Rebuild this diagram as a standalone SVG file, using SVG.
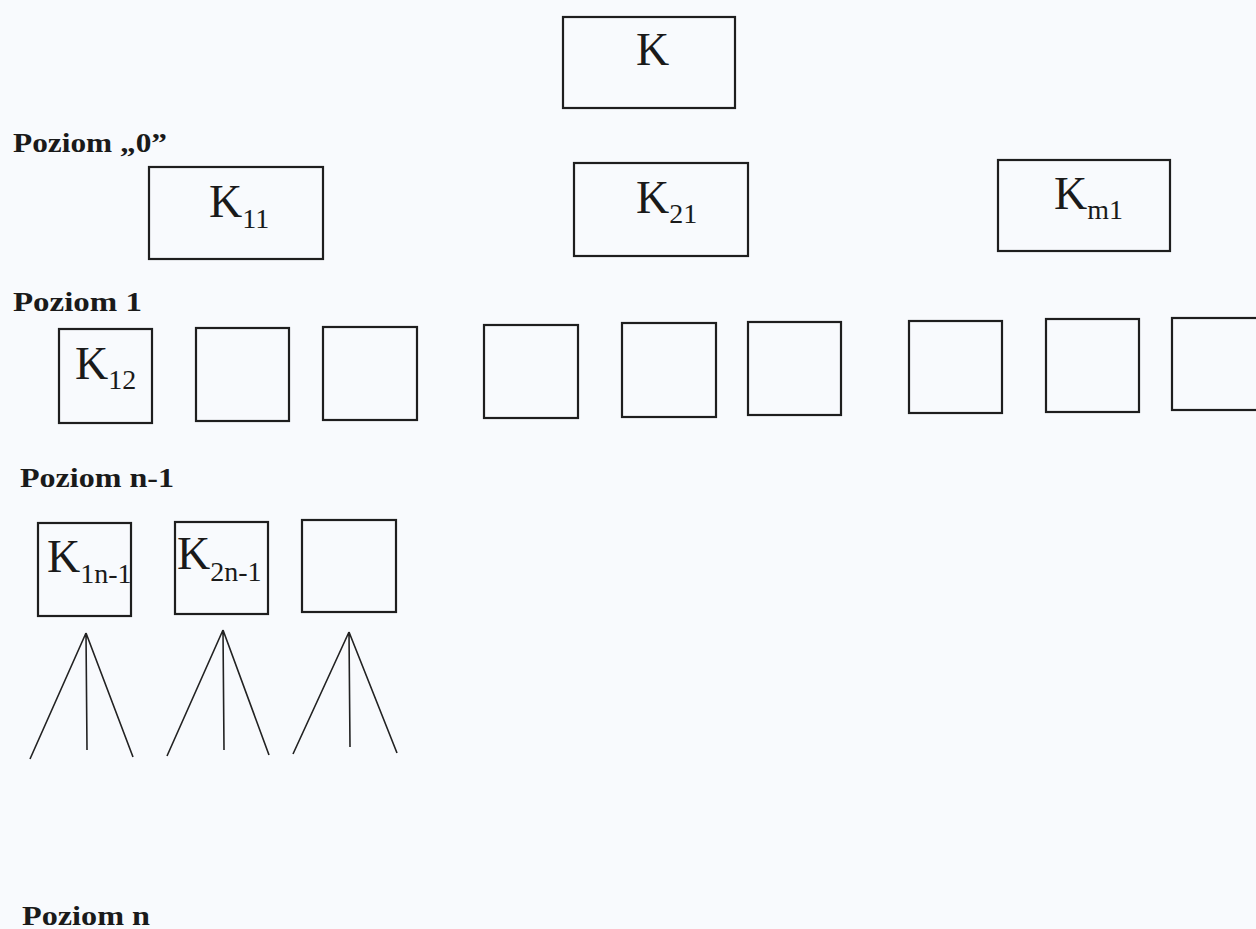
<svg xmlns="http://www.w3.org/2000/svg" width="1256" height="929" viewBox="0 0 1256 929">
<style>
.bg{fill:#f8fafd}
.box{fill:none;stroke:#1e1e1e;stroke-width:2.2}
.lbl{font-family:"Liberation Serif","Times New Roman",serif;font-size:46px;fill:#1a1a1a}
.sub{font-size:28px}
.lvl{font-family:"Liberation Serif","Times New Roman",serif;font-size:27px;font-weight:bold;fill:#1a1a1a}
.fan{stroke:#222;stroke-width:1.6;fill:none}
</style>
<rect class="bg" x="0" y="0" width="1256" height="929"/>
<g id="levels">
<text class="lvl" x="13" y="152" textLength="154" lengthAdjust="spacingAndGlyphs">Poziom „0”</text>
<text class="lvl" x="13" y="311" textLength="129" lengthAdjust="spacingAndGlyphs">Poziom 1</text>
<text class="lvl" x="20" y="487" textLength="154" lengthAdjust="spacingAndGlyphs">Poziom n-1</text>
<text class="lvl" x="22" y="925" textLength="128" lengthAdjust="spacingAndGlyphs">Poziom n</text>
</g>
<g id="node-K"><rect class="box" x="563" y="17" width="172" height="91"/><text class="lbl" x="636" y="65">K</text></g>
<g id="node-K11"><rect class="box" x="149" y="167" width="174" height="92"/><text class="lbl" x="209" y="217">K<tspan class="sub" dy="11">11</tspan></text></g>
<g id="node-K21"><rect class="box" x="574" y="163" width="174" height="93"/><text class="lbl" x="636" y="213">K<tspan class="sub" dy="10">21</tspan></text></g>
<g id="node-Km1"><rect class="box" x="998" y="160" width="172" height="91"/><text class="lbl" x="1054" y="209">K<tspan class="sub" dy="10">m1</tspan></text></g>
<g id="node-K12"><rect class="box" x="59" y="329" width="93" height="94"/><text class="lbl" x="75" y="379">K<tspan class="sub" dy="10">12</tspan></text></g>
<g id="node-L1-2"><rect class="box" x="196" y="328" width="93" height="93"/></g>
<g id="node-L1-3"><rect class="box" x="323" y="327" width="94" height="93"/></g>
<g id="node-L1-4"><rect class="box" x="484" y="325" width="94" height="93"/></g>
<g id="node-L1-5"><rect class="box" x="622" y="323" width="94" height="94"/></g>
<g id="node-L1-6"><rect class="box" x="748" y="322" width="93" height="93"/></g>
<g id="node-L1-7"><rect class="box" x="909" y="321" width="93" height="92"/></g>
<g id="node-L1-8"><rect class="box" x="1046" y="319" width="93" height="93"/></g>
<g id="node-L1-9"><rect class="box" x="1172" y="318" width="100" height="92"/></g>
<g id="node-K1n-1"><rect class="box" x="38" y="523" width="93" height="93"/><text class="lbl" x="47" y="572">K<tspan class="sub" dy="11">1n-1</tspan></text></g>
<g id="node-K2n-1"><rect class="box" x="175" y="522" width="93" height="92"/><text class="lbl" x="177" y="569">K<tspan class="sub" dy="12">2n-1</tspan></text></g>
<g id="node-Ln1-3"><rect class="box" x="302" y="520" width="94" height="92"/></g>
<g id="connectors">
<path class="fan" d="M86 633L30 759M86 633L87 750M86 633L133 757"/>
<path class="fan" d="M223 630L167 756M223 630L224 750M223 630L269 755"/>
<path class="fan" d="M349 632L293 754M349 632L350 747M349 632L397 753"/>
</g>
</svg>
